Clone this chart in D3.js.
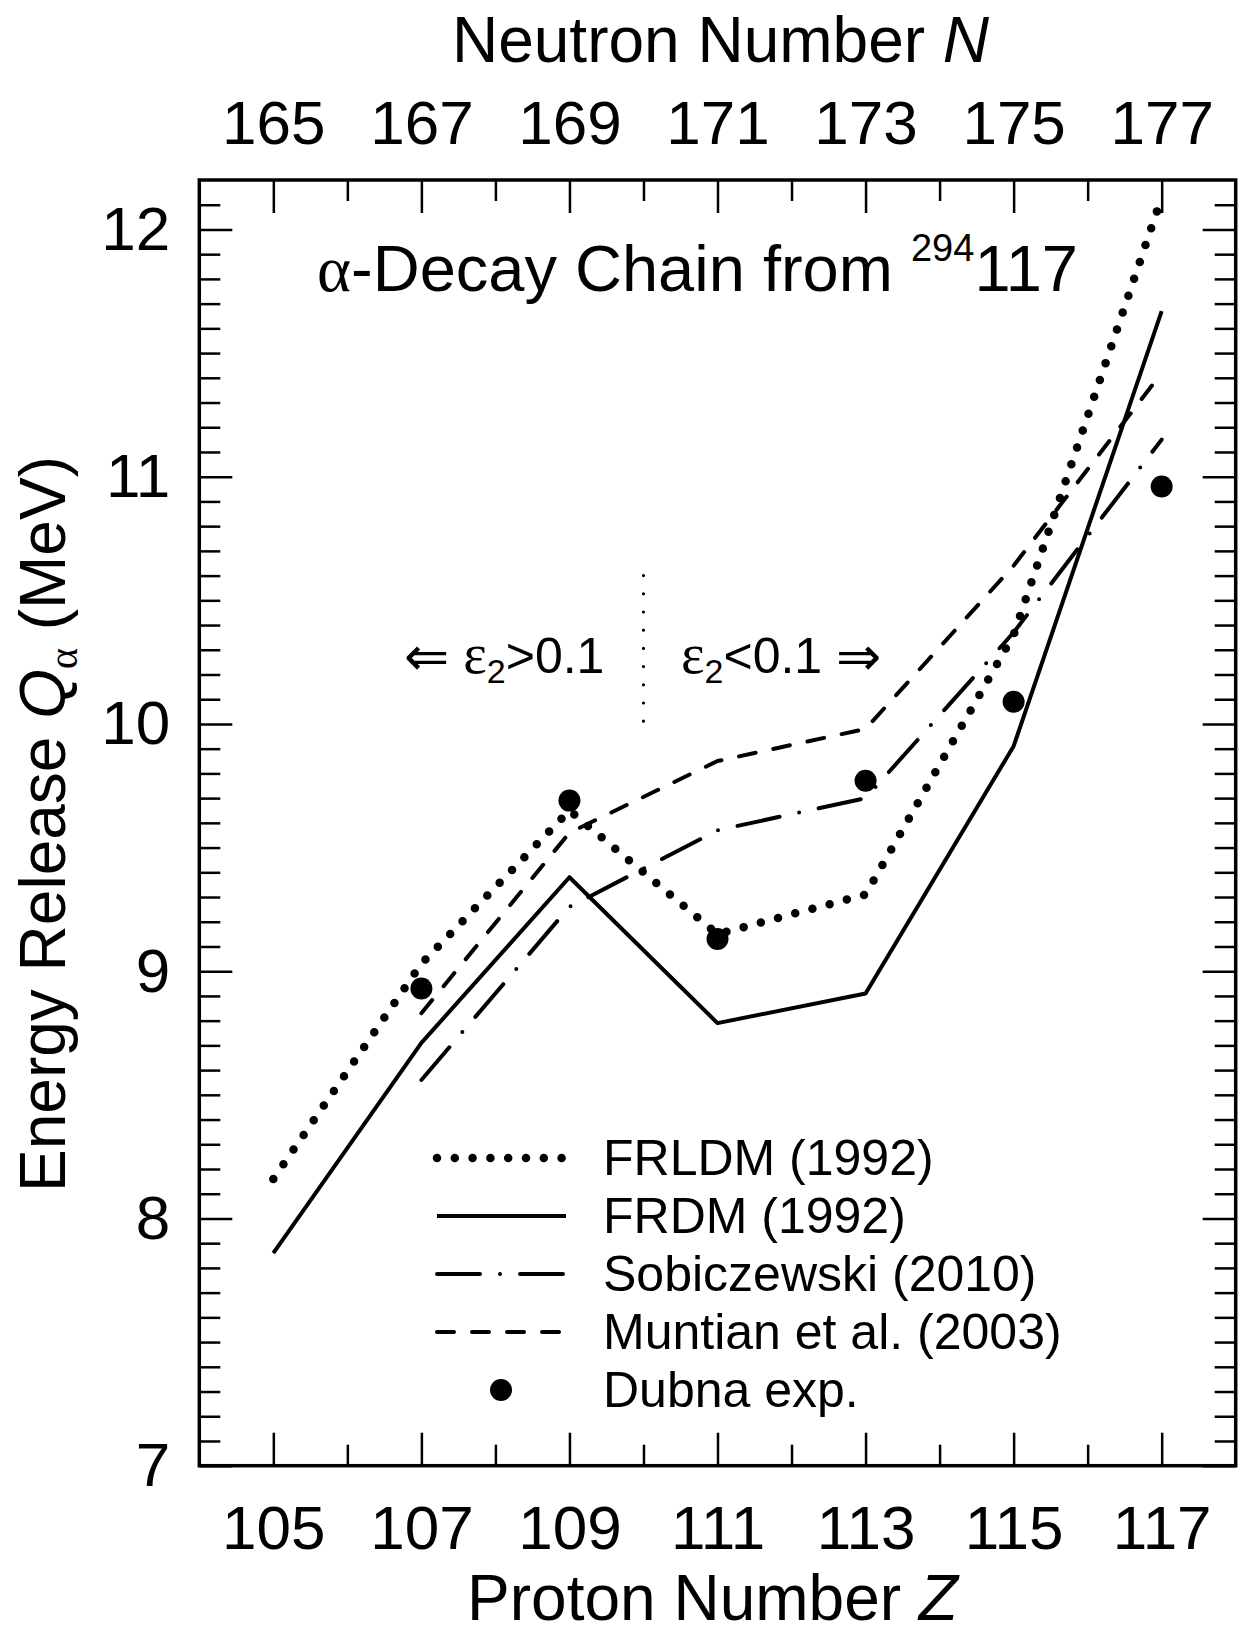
<!DOCTYPE html>
<html>
<head>
<meta charset="utf-8">
<script src="https://cdn.jsdelivr.net/npm/d3@7"></script>
<style>
  html, body { margin: 0; padding: 0; background: #fff; }
  text { font-family: "Liberation Sans", Arial, sans-serif; fill: #000; }
</style>
</head>
<body>
<svg id="chart" width="1239" height="1636"></svg>
<script>
// ---------- data ----------
const protonZ = [105, 107, 109, 111, 113, 115, 117];
const frldm = [8.16, 9.03, 9.65, 9.15, 9.31, 10.36, 12.13];
const frdm = [7.86, 8.71, 9.38, 8.79, 8.91, 9.91, 11.67];
const sobZ = [107, 109, 111, 113, 115, 117];
const sobiczewski = [8.56, 9.26, 9.57, 9.70, 10.37, 11.15];
const muntian = [8.83, 9.56, 9.85, 9.98, 10.64, 11.42];
const dubnaZ = [107, 109, 111, 113, 115, 117];
const dubna = [8.93, 9.69, 9.13, 9.77, 10.09, 10.96];

const xMajorTicks = [105, 107, 109, 111, 113, 115, 117];
const xMinorTicks = [106, 108, 110, 112, 114, 116];
const yMajorTicks = [7, 8, 9, 10, 11, 12];
const yMinorTicks = [7.1,7.2,7.3,7.4,7.5,7.6,7.7,7.8,7.9,8.1,8.2,8.3,8.4,8.5,8.6,8.7,8.8,8.9,
  9.1,9.2,9.3,9.4,9.5,9.6,9.7,9.8,9.9,10.1,10.2,10.3,10.4,10.5,10.6,10.7,10.8,10.9,
  11.1,11.2,11.3,11.4,11.5,11.6,11.7,11.8,11.9,12.1];
const neutronOffset = 60; // N = Z + 60 along the chain

const legendItems = ["FRLDM (1992)", "FRDM (1992)", "Sobiczewski (2010)", "Muntian et al. (2003)", "Dubna exp."];

// ---------- layout ----------
const L = 199.3, R = 1235.7, T = 180, B = 1465.7;
const svg = d3.select("#chart");
svg.append("rect").attr("width", 1239).attr("height", 1636).attr("fill", "#fff");

const x = d3.scaleLinear().domain([104, 118]).range([L, R]);
const y = d3.scaleLinear().domain([7, 12.2]).range([B, T]);

const styles = {
  frldm: { "stroke-width": 8.5, "stroke-dasharray": "0 17.8", "stroke-linecap": "round" },
  frdm: { "stroke-width": 4, "stroke-dasharray": null, "stroke-linecap": "butt" },
  sob: { "stroke-width": 4, "stroke-dasharray": "43 20 0 20", "stroke-linecap": "round" },
  munt: { "stroke-width": 4, "stroke-dasharray": "17 18", "stroke-linecap": "round" }
};
function applyStyle(sel, st) {
  sel.attr("fill", "none").attr("stroke", "#000").attr("stroke-linejoin", "round");
  Object.entries(st).forEach(([k, v]) => { if (v !== null) sel.attr(k, v); });
  return sel;
}

// ---------- axes ----------
function styleAxis(g) {
  g.select(".domain").remove();
  g.selectAll(".tick line").attr("stroke", "#000").attr("stroke-width", 2.5);
  g.selectAll(".tick text").attr("font-family", "Liberation Sans, Arial, sans-serif").attr("fill", "#000");
}
const tickFont = 62;
// bottom
svg.append("g").attr("transform", `translate(0,${B})`)
  .call(d3.axisBottom(x).tickValues(xMajorTicks).tickSize(-33).tickPadding(39).tickFormat(d3.format("d")))
  .call(styleAxis).attr("font-size", tickFont);
svg.append("g").attr("transform", `translate(0,${B})`)
  .call(d3.axisBottom(x).tickValues(xMinorTicks).tickSize(-21).tickFormat(""))
  .call(styleAxis);
// top
svg.append("g").attr("transform", `translate(0,${T})`)
  .call(d3.axisTop(x).tickValues(xMajorTicks).tickSize(-33).tickPadding(36).tickFormat(d => d + neutronOffset))
  .call(styleAxis).attr("font-size", tickFont);
svg.append("g").attr("transform", `translate(0,${T})`)
  .call(d3.axisTop(x).tickValues(xMinorTicks).tickSize(-21).tickFormat(""))
  .call(styleAxis);
// left
svg.append("g").attr("transform", `translate(${L},0)`)
  .call(d3.axisLeft(y).tickValues(yMajorTicks).tickSize(-33).tickPadding(29).tickFormat(d3.format("d")))
  .call(styleAxis).attr("font-size", tickFont);
svg.append("g").attr("transform", `translate(${L},0)`)
  .call(d3.axisLeft(y).tickValues(yMinorTicks).tickSize(-21).tickFormat(""))
  .call(styleAxis);
// right
svg.append("g").attr("transform", `translate(${R},0)`)
  .call(d3.axisRight(y).tickValues(yMajorTicks).tickSize(-33).tickFormat(""))
  .call(styleAxis);
svg.append("g").attr("transform", `translate(${R},0)`)
  .call(d3.axisRight(y).tickValues(yMinorTicks).tickSize(-21).tickFormat(""))
  .call(styleAxis);

// frame
svg.append("rect").attr("x", L).attr("y", T).attr("width", R - L).attr("height", B - T)
  .attr("fill", "none").attr("stroke", "#000").attr("stroke-width", 3.5);

// ---------- axis titles ----------
svg.append("text").attr("x", (L + R) / 2 - 5).attr("y", 1620).attr("text-anchor", "middle")
  .attr("font-size", 64)
  .call(t => { t.append("tspan").text("Proton Number "); t.append("tspan").attr("font-style", "italic").text("Z"); });
svg.append("text").attr("x", (L + R) / 2 + 3).attr("y", 62).attr("text-anchor", "middle")
  .attr("font-size", 64)
  .call(t => { t.append("tspan").text("Neutron Number "); t.append("tspan").attr("font-style", "italic").text("N"); });
svg.append("text").attr("transform", "translate(65,824) rotate(-90)").attr("text-anchor", "middle")
  .attr("font-size", 64)
  .call(t => {
    t.append("tspan").text("Energy Release ");
    t.append("tspan").attr("font-style", "italic").text("Q");
    t.append("tspan").attr("font-family", "Liberation Serif, serif").attr("font-size", 40).attr("dy", 12).text("α");
    t.append("tspan").attr("dy", -12).text(" (MeV)");
  });

// ---------- title ----------
svg.append("text").attr("x", 317).attr("y", 291).attr("font-size", 65)
  .call(t => {
    t.append("tspan").attr("font-family", "Liberation Serif, serif").text("α");
    t.append("tspan").text("-Decay Chain from ");
    t.append("tspan").attr("font-size", 38).attr("dy", -30).text("294");
    t.append("tspan").attr("dy", 30).text("117");
  });

// ---------- deformation annotation ----------
svg.append("line").attr("x1", x(110)).attr("x2", x(110)).attr("y1", y(10.6)).attr("y2", y(10.0))
  .attr("stroke", "#000").attr("stroke-width", 3.2).attr("stroke-dasharray", "0 18.2").attr("stroke-linecap", "round");
svg.append("text").attr("x", 404).attr("y", 673).attr("font-size", 50)
  .call(t => {
    t.append("tspan").attr("font-family", "DejaVu Sans, sans-serif").attr("font-size", 54).attr("dy", 2).text("⇐");
    t.append("tspan").attr("font-family", "Liberation Serif, serif").attr("font-size", 56).attr("dy", -2).text(" ε");
    t.append("tspan").attr("font-size", 34).attr("dy", 10).text("2");
    t.append("tspan").attr("dy", -10).text(">0.1");
  });
svg.append("text").attr("x", 681).attr("y", 673).attr("font-size", 50)
  .call(t => {
    t.append("tspan").attr("font-family", "Liberation Serif, serif").attr("font-size", 56).text("ε");
    t.append("tspan").attr("font-size", 34).attr("dy", 10).text("2");
    t.append("tspan").attr("dy", -10).text("<0.1 ");
    t.append("tspan").attr("font-family", "DejaVu Sans, sans-serif").attr("font-size", 54).attr("dy", 2).text("⇒");
  });

// ---------- series ----------
const line = d3.line().x(d => x(d[0])).y(d => y(d[1]));
const zip = (a, b) => a.map((v, i) => [v, b[i]]);

applyStyle(svg.append("path").attr("d", line(zip(protonZ, frdm))), styles.frdm);
applyStyle(svg.append("path").attr("d", line(zip(sobZ, sobiczewski))), styles.sob);
applyStyle(svg.append("path").attr("d", line(zip(sobZ, muntian))), styles.munt);
applyStyle(svg.append("path").attr("d", line(zip(protonZ, frldm))), styles.frldm);

svg.append("g").selectAll("circle").data(zip(dubnaZ, dubna)).join("circle")
  .attr("cx", d => x(d[0])).attr("cy", d => y(d[1])).attr("r", 11).attr("fill", "#000");

// ---------- legend ----------
const legX1 = 437, legX2 = 566, legTextX = 603, legBase0 = 1175, legStep = 58;
const legStyles = [styles.frldm, styles.frdm, styles.sob, styles.munt];
legendItems.forEach((name, i) => {
  const base = legBase0 + i * legStep;
  const cy = base - 17;
  if (i < 4) {
    applyStyle(svg.append("path").attr("d", d3.line()([[legX1, cy], [legX2, cy]])), legStyles[i]);
  } else {
    svg.append("circle").attr("cx", 501).attr("cy", cy).attr("r", 11).attr("fill", "#000");
  }
  svg.append("text").attr("x", legTextX).attr("y", base).attr("font-size", 50).text(name);
});
</script>
</body>
</html>
